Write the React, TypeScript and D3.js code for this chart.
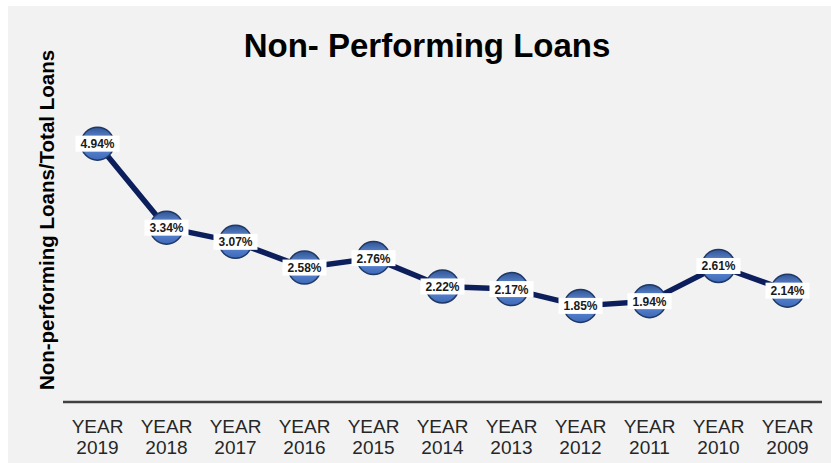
import React from "react";
import * as d3 from "d3";

const years = ["2019", "2018", "2017", "2016", "2015", "2014", "2013", "2012", "2011", "2010", "2009"];
const npl = [4.94, 3.34, 3.07, 2.58, 2.76, 2.22, 2.17, 1.85, 1.94, 2.61, 2.14];
const titleText = "Non- Performing Loans";
const yLabel = "Non-performing Loans/Total Loans";

export default function App() {
  const W = 831, H = 463;
  const left = 63, right = 822, axisY = 403;
  const x = d3.scaleBand<string>().domain(years).range([left, right]);
  const y = d3.scaleLinear().domain([0, 6]).range([axisY, 88]);
  const line = d3.line<number>()
    .x((_, i) => (x(years[i]) as number) + x.bandwidth() / 2)
    .y((d) => y(d));
  return (
    <svg width={W} height={H} style={{ position: "absolute", left: 0, top: 0 }}>
      <defs>
        <linearGradient id="mk" x1="0" y1="0" x2="0" y2="1">
          <stop offset="0" stopColor="#2f5597" />
          <stop offset="0.45" stopColor="#6e96dc" />
          <stop offset="1" stopColor="#3c68b8" />
        </linearGradient>
      </defs>
      <rect x={0} y={0} width={W} height={H} fill="#ffffff" />
      <rect x={8} y={6} width={W - 8} height={H - 6} fill="#f2f2f2" />
      <text x={427} y={57} textAnchor="middle" fontFamily="Liberation Sans, Arial, sans-serif" fontWeight="bold" fontSize={33} fill="#000">{titleText}</text>
      <text transform={`translate(54,220) rotate(-90)`} textAnchor="middle" fontFamily="Liberation Sans, Arial, sans-serif" fontWeight="bold" fontSize={20.5} fill="#000">{yLabel}</text>
      <line x1={left} x2={right} y1={axisY - 1} y2={axisY - 1} stroke="#404040" strokeWidth={2.5} />
      {years.map((yr) => {
        const cx = (x(yr) as number) + x.bandwidth() / 2;
        return (
          <text key={yr} x={cx} textAnchor="middle" fontFamily="Liberation Sans, Arial, sans-serif" fontSize={19} fill="#262626">
            <tspan x={cx} y={433}>YEAR</tspan>
            <tspan x={cx} y={454}>{yr}</tspan>
          </text>
        );
      })}
      <path d={line(npl) || ""} fill="none" stroke="#0c1f5c" strokeWidth={5.5} strokeLinejoin="round" />
      {npl.map((v, i) => {
        const cx = (x(years[i]) as number) + x.bandwidth() / 2;
        const cy = y(v);
        return (
          <g key={i}>
            <circle cx={cx} cy={cy} r={16.5} fill="url(#mk)" stroke="#1f3864" strokeWidth={1.5} />
            <rect x={cx - 22} y={cy - 8} width={44} height={16} fill="#ffffff" />
            <text x={cx} y={cy + 4.5} textAnchor="middle" fontFamily="Liberation Sans, Arial, sans-serif" fontWeight="bold" fontSize={12} fill="#1a1a1a">{v.toFixed(2)}%</text>
          </g>
        );
      })}
    </svg>
  );
}
